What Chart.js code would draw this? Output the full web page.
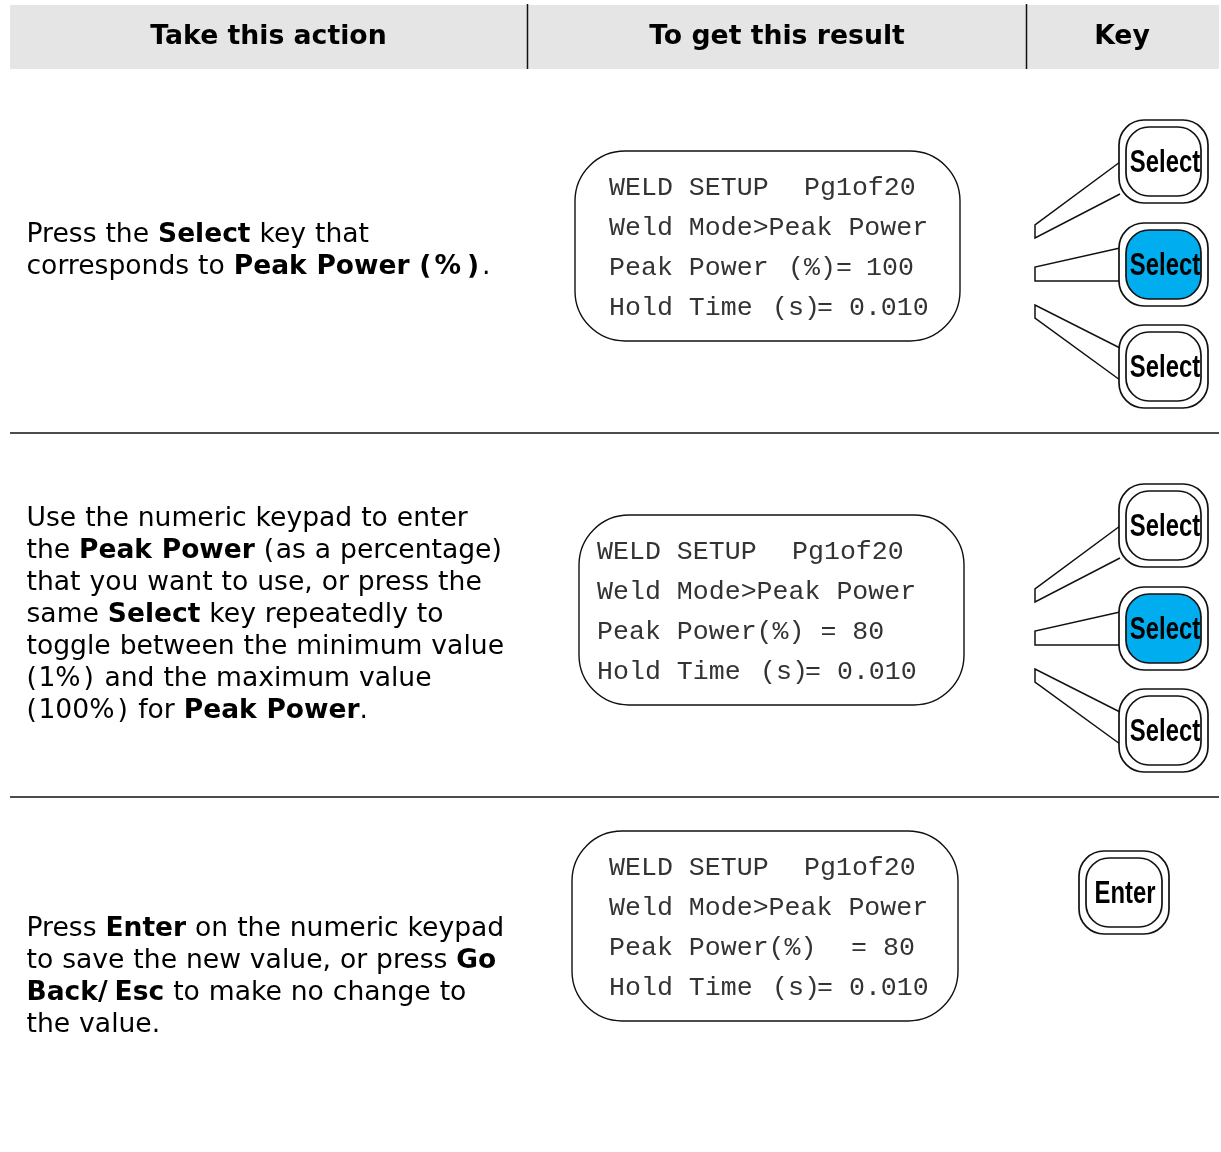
<!DOCTYPE html>
<html>
<head>
<meta charset="utf-8">
<title>Peak Power setup</title>
<script src="https://cdn.jsdelivr.net/npm/chart.js@4"></script>
<style>
html, body { margin: 0; padding: 0; background: #fff; }
canvas { display: block; }
</style>
</head>
<body>
<canvas id="page" width="1221" height="1152"></canvas>
<script>
// Texts of the table
const headers = ['Take this action', 'To get this result', 'Key'];

// ** marks the bold runs
const step1Lines = ['Press the **Select** key that', 'corresponds to **Peak Power (%)**.'];
const step2Lines = [
    'Use the numeric keypad to enter',
    'the **Peak Power** (as a percentage)',
    'that you want to use, or press the',
    'same **Select** key repeatedly to',
    'toggle between the minimum value',
    '(1%) and the maximum value',
    '(100%) for **Peak Power**.',
];
const step3Lines = [
    'Press **Enter** on the numeric keypad',
    'to save the new value, or press **Go**',
    '**Back/Esc** to make no change to',
    'the value.',
];

// a tab jumps to the next stop of that row, see displays below
const display1Lines = ['WELD SETUP\tPg1of20', 'Weld Mode>Peak Power', 'Peak Power\t(%)=\t100', 'Hold Time\t(s)\t= 0.010'];
const display2Lines = ['WELD SETUP\tPg1of20', 'Weld Mode>Peak Power', 'Peak Power(%) = 80', 'Hold Time\t(s)\t= 0.010'];
const display3Lines = ['WELD SETUP\tPg1of20', 'Weld Mode>Peak Power', 'Peak Power(%)\t= 80', 'Hold Time\t(s)\t= 0.010'];

const selectKey = 'Select';
const enterKey = 'Enter';

// Page layout, the axes run in page pixels
const W = 1221, H = 1152;
const INK = '#111';
const BODY_FONT = '"DejaVu Sans", Verdana, sans-serif';
const MONO_FONT = '"Liberation Mono", monospace';
const KEY_FONT = '"Liberation Sans", sans-serif';

const steps = [
    { lines: step1Lines, x: 26.5, y: 242 },
    { lines: step2Lines, x: 26.5, y: 526 },
    { lines: step3Lines, x: 26.5, y: 936 },
];
const holdStops = [163, 208];
const displays = [
    { lines: display1Lines, x0: 575, x1: 960, y0: 151, y1: 341, textX: 609, textY: 195, stops: [[195], [], [179, 257], holdStops] },
    { lines: display2Lines, x0: 579, x1: 964, y0: 515, y1: 705, textX: 597, textY: 559, stops: [[195], [], [], holdStops] },
    { lines: display3Lines, x0: 572, x1: 958, y0: 831, y1: 1021, textX: 609, textY: 875, stops: [[195], [], [242], holdStops] },
];
const keys = [
    { label: selectKey, x0: 1119, y0: 120, w: 89 },
    { label: selectKey, x0: 1119, y0: 223, w: 89, on: true },
    { label: selectKey, x0: 1119, y0: 325, w: 89 },
    { label: selectKey, x0: 1119, y0: 484, w: 89 },
    { label: selectKey, x0: 1119, y0: 587, w: 89, on: true },
    { label: selectKey, x0: 1119, y0: 689, w: 89 },
    { label: enterKey, x0: 1079, y0: 851, w: 90 },
];

// these glyphs run narrower in DejaVu than in the original face
const wideGlyphs = { '%': 3, '(': 1.5, ')': 1.5, '/': 3.5 };

function lineSet(points, extra) {
    return Object.assign({
        data: points.map(p => ({ x: p[0], y: p[1] })),
        showLine: true,
        pointRadius: 0,
        borderColor: INK,
        borderWidth: 1.5,
        tension: 0,
    }, extra);
}

// Lines leading from the display edge to the three Select keys
function callouts(dy) {
    return [
        lineSet([[1120, 162 + dy], [1035, 225 + dy], [1035, 238 + dy], [1120, 194 + dy]]),
        lineSet([[1120, 248 + dy], [1035, 267 + dy], [1035, 281 + dy], [1120, 281 + dy]]),
        lineSet([[1120, 348 + dy], [1035, 305 + dy], [1035, 318 + dy], [1120, 380 + dy]]),
    ];
}

// first dataset is painted last, so the header band stays at the end
const datasets = [
    lineSet([[527.5, 4], [527.5, 69]]),
    lineSet([[1026.5, 4], [1026.5, 69]]),
    lineSet([[10, 433], [1219, 433]]),
    lineSet([[10, 797], [1219, 797]]),
    ...callouts(0),
    ...callouts(364),
    lineSet([[10, 5], [1219, 5], [1219, 69], [10, 69], [10, 5]], {
        borderWidth: 0, backgroundColor: '#e5e5e5', fill: 'shape',
    }),
];

function roundBox(ctx, x0, y0, x1, y1, r, fill) {
    ctx.beginPath();
    ctx.roundRect(x0, y0, x1 - x0, y1 - y0, r);
    if (fill) {
        ctx.fillStyle = fill;
        ctx.fill();
    }
    ctx.stroke();
}

// Writes one line, switching to bold on the ** marks
function richText(ctx, text, x, y) {
    ctx.wordSpacing = '0.5px';
    text.split('**').forEach((part, i) => {
        const bold = i % 2 === 1;
        ctx.font = bold ? 'bold 26.5px ' + BODY_FONT : '26.6px ' + BODY_FONT;
        part.split(/([%()\/])/).forEach(piece => {
            ctx.fillText(piece, x, y);
            x += ctx.measureText(piece).width;
            if (wideGlyphs[piece]) x += wideGlyphs[piece] * (bold ? 2 : 1);
        });
    });
    ctx.wordSpacing = '0px';
}

const pagePlugin = {
    id: 'page',
    afterDatasetsDraw(chart) {
        const ctx = chart.ctx;
        const sx = v => chart.scales.x.getPixelForValue(v);
        const sy = v => chart.scales.y.getPixelForValue(v);
        ctx.save();
        ctx.fillStyle = '#000';
        ctx.textBaseline = 'alphabetic';

        // header row
        ctx.textAlign = 'center';
        ctx.font = 'bold 26.7px ' + BODY_FONT;
        [268.5, 777, 1122].forEach((x, i) => ctx.fillText(headers[i], sx(x), sy(44)));

        // action column
        ctx.textAlign = 'left';
        steps.forEach(s => s.lines.forEach((line, i) => {
            richText(ctx, line, sx(s.x), sy(s.y + i * 32));
        }));

        // display boxes
        ctx.strokeStyle = INK;
        ctx.lineWidth = 1.4;
        displays.forEach(d => {
            roundBox(ctx, sx(d.x0), sy(d.y0), sx(d.x1), sy(d.y1), 50);
            ctx.fillStyle = '#333';
            ctx.font = '26.6px ' + MONO_FONT;
            d.lines.forEach((line, i) => {
                line.split('\t').forEach((part, j) => {
                    const off = j ? d.stops[i][j - 1] : 0;
                    ctx.fillText(part, sx(d.textX + off), sy(d.textY + i * 40));
                });
            });
        });

        // keys, the label font has no narrow cut so it gets squeezed
        keys.forEach(k => {
            const x = sx(k.x0), y = sy(k.y0);
            ctx.strokeStyle = INK;
            ctx.lineWidth = 1.7;
            roundBox(ctx, x, y, x + k.w, y + 83, 25, '#fff');
            roundBox(ctx, x + 7, y + 7, x + k.w - 7, y + 76, 23, k.on ? '#00aeef' : '#fff');
            ctx.save();
            ctx.fillStyle = '#000';
            ctx.textAlign = 'center';
            ctx.font = 'bold 31px ' + KEY_FONT;
            ctx.translate(x + 46, y + 52);
            ctx.scale(0.77, 1);
            ctx.fillText(k.label, 0, 0);
            ctx.restore();
        });
        ctx.restore();
    },
};

new Chart(document.getElementById('page'), {
    type: 'scatter',
    data: { datasets: datasets },
    plugins: [pagePlugin],
    options: {
        responsive: false,
        animation: false,
        layout: { padding: 0 },
        events: [],
        plugins: { legend: { display: false }, tooltip: { enabled: false }, title: { display: false } },
        scales: {
            x: { type: 'linear', min: 0, max: W, display: false },
            y: { type: 'linear', min: 0, max: H, reverse: true, display: false },
        },
    },
});
</script>
</body>
</html>
